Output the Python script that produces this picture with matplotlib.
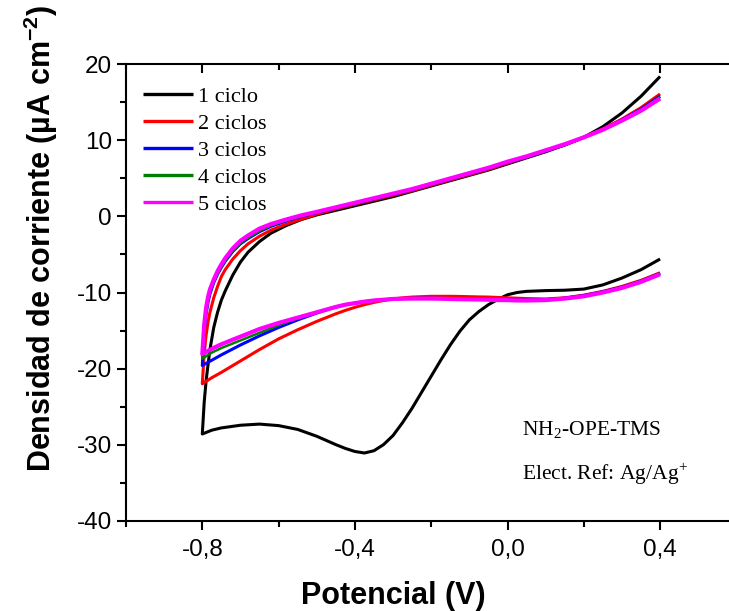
import matplotlib
matplotlib.use("Agg")
import matplotlib.pyplot as plt
from matplotlib.ticker import MultipleLocator, FuncFormatter

plt.rcParams["mathtext.fontset"] = "custom"
plt.rcParams["mathtext.rm"] = "Liberation Serif"
plt.rcParams["mathtext.bf"] = "Liberation Sans:bold"

# Potential grids (V)
pot_down = [0.40, 0.35, 0.30, 0.25, 0.20, 0.15, 0.10, 0.05, 0.025, 0.00, -0.025, -0.05,
            -0.075, -0.10, -0.125, -0.15, -0.175, -0.20, -0.225, -0.25, -0.275, -0.30,
            -0.325, -0.35, -0.375, -0.40, -0.425, -0.45, -0.50, -0.55, -0.60, -0.65,
            -0.70, -0.75, -0.775, -0.80]
pot_up = [-0.80, -0.795, -0.79, -0.785, -0.78, -0.77, -0.76, -0.75, -0.74, -0.72, -0.70,
          -0.68, -0.65, -0.62, -0.58, -0.54, -0.50, -0.45, -0.40, -0.35, -0.30, -0.25,
          -0.20, -0.15, -0.10, -0.05, 0.00, 0.05, 0.10, 0.15, 0.20, 0.25, 0.30, 0.35, 0.40]

# Current density (uA cm-2), cathodic sweep (0.4 -> -0.8)
c1_down = [-5.6, -7.0, -8.1, -9.0, -9.55, -9.7, -9.75, -9.85, -10.0, -10.3, -10.9, -11.6,
           -12.5, -13.6, -15.1, -16.9, -18.9, -21.0, -23.1, -25.2, -27.1, -28.8,
           -30.0, -30.8, -31.1, -30.9, -30.5, -30.0, -28.9, -28.0, -27.5, -27.3,
           -27.45, -27.8, -28.1, -28.6]
c2_down = [-7.4, -8.4, -9.2, -9.85, -10.35, -10.7, -10.85, -10.8, -10.75, -10.7, -10.65, -10.6,
           -10.58, -10.55, -10.52, -10.5, -10.5, -10.5, -10.55, -10.6, -10.7, -10.85,
           -11.05, -11.3, -11.6, -11.95, -12.35, -12.8, -13.8, -14.9, -16.1, -17.5,
           -19.0, -20.5, -21.2, -22.0]
c3_down = [-7.5, -8.5, -9.3, -9.9, -10.4, -10.75, -10.95, -11.0, -11.0, -10.95, -10.95, -10.9,
           -10.87, -10.85, -10.83, -10.8, -10.78, -10.76, -10.76, -10.77, -10.8, -10.85,
           -10.95, -11.05, -11.2, -11.4, -11.6, -11.9, -12.7, -13.6, -14.6, -15.7,
           -16.9, -18.2, -18.9, -19.6]
c4_down = [-7.5, -8.5, -9.35, -9.95, -10.45, -10.8, -11.0, -11.05, -11.05, -11.0, -11.0, -10.95,
           -10.92, -10.9, -10.88, -10.85, -10.82, -10.8, -10.8, -10.8, -10.82, -10.85,
           -10.95, -11.05, -11.2, -11.4, -11.6, -11.9, -12.6, -13.4, -14.3, -15.3,
           -16.3, -17.3, -17.9, -18.7]
c5_down = [-7.6, -8.6, -9.4, -10.0, -10.5, -10.8, -11.0, -11.05, -11.05, -11.0, -11.0, -10.95,
           -10.92, -10.9, -10.88, -10.85, -10.82, -10.8, -10.8, -10.8, -10.82, -10.85,
           -10.95, -11.05, -11.2, -11.4, -11.6, -11.9, -12.6, -13.3, -14.0, -14.8,
           -15.8, -16.8, -17.4, -18.1]

# Anodic sweep (-0.8 -> 0.4)
c1_up = [-28.6, -24.4, -21.6, -19.5, -17.5, -14.6, -12.6, -11.0, -9.8, -7.7, -6.0,
         -4.7, -3.3, -2.2, -1.2, -0.4, 0.2, 0.8, 1.4, 2.0, 2.6, 3.3,
         4.0, 4.7, 5.4, 6.1, 6.9, 7.7, 8.5, 9.4, 10.4, 11.8, 13.6, 15.8, 18.4]
c2_up = [-22.0, -18.0, -15.6, -13.9, -12.6, -10.7, -9.2, -7.9, -7.0, -5.6, -4.5,
         -3.6, -2.6, -1.8, -1.0, -0.35, 0.3, 1.0, 1.6, 2.2, 2.8, 3.4,
         4.1, 4.8, 5.5, 6.2, 7.0, 7.8, 8.6, 9.4, 10.4, 11.5, 12.8, 14.3, 16.1]
c3_up = [-19.6, -15.0, -12.8, -11.3, -10.2, -8.7, -7.6, -6.7, -5.9, -4.6, -3.6,
         -2.9, -2.0, -1.3, -0.6, 0.0, 0.5, 1.1, 1.7, 2.3, 2.9, 3.5,
         4.2, 4.9, 5.6, 6.3, 7.1, 7.8, 8.6, 9.4, 10.4, 11.4, 12.7, 14.1, 15.8]
c4_up = [-18.7, -14.6, -12.4, -11.0, -9.9, -8.5, -7.5, -6.6, -5.8, -4.5, -3.5,
         -2.8, -1.9, -1.2, -0.5, 0.05, 0.55, 1.15, 1.75, 2.35, 2.95, 3.55,
         4.25, 4.95, 5.65, 6.35, 7.15, 7.85, 8.65, 9.45, 10.4, 11.4, 12.65, 14.0, 15.7]
c5_up = [-18.1, -14.2, -12.0, -10.6, -9.6, -8.3, -7.2, -6.3, -5.5, -4.2, -3.2,
         -2.5, -1.6, -1.0, -0.4, 0.15, 0.6, 1.2, 1.8, 2.4, 3.0, 3.6,
         4.3, 5.0, 5.7, 6.4, 7.2, 7.9, 8.7, 9.5, 10.4, 11.4, 12.6, 13.9, 15.5]

labels = ["1 ciclo", "2 ciclos", "3 ciclos", "4 ciclos", "5 ciclos"]
colors = ["#000000", "#ff0000", "#0000ff", "#008000", "#ff00ff"]
widths = [2.2, 2.2, 2.2, 1.8, 3.0]

x_ticks = [-0.8, -0.4, 0.0, 0.4]
y_ticks = [-40, -30, -20, -10, 0, 10, 20]

SANS = ["Liberation Sans", "DejaVu Sans"]
SERIF = ["Liberation Serif", "DejaVu Serif"]

fig = plt.figure(figsize=(7.29, 6.11), dpi=100)
ax = fig.add_axes([126 / 729, 90.3 / 611, 610.4 / 729, 456.4 / 611])

downs = [c1_down, c2_down, c3_down, c4_down, c5_down]
ups = [c1_up, c2_up, c3_up, c4_up, c5_up]
for dn, up, lab, col, lw in zip(downs, ups, labels, colors, widths):
    ax.plot(pot_down + pot_up[1:], dn + up[1:], color=col, lw=lw, label=lab,
            solid_joinstyle="round", solid_capstyle="butt")

ax.set_xlim(-1.0, 0.6)
ax.set_ylim(-40, 20)
ax.set_xticks(x_ticks)
ax.set_yticks(y_ticks)
ax.xaxis.set_minor_locator(MultipleLocator(0.2))
ax.yaxis.set_minor_locator(MultipleLocator(5))
ax.xaxis.set_major_formatter(FuncFormatter(lambda v, p: f"{v:.1f}".replace(".", ",").replace("-0,0", "0,0")))
ax.yaxis.set_major_formatter(FuncFormatter(lambda v, p: f"{v:.0f}"))
ax.tick_params(which="major", direction="out", length=6.5, width=1.5)
ax.tick_params(which="minor", direction="out", length=4, width=1.5)
ax.tick_params(axis="x", which="major", pad=6.5)
ax.tick_params(axis="y", which="major", pad=3.5)
ax.tick_params(top=False, right=False)
for lab in ax.get_xticklabels() + ax.get_yticklabels():
    lab.set_fontfamily(SANS)
    lab.set_fontsize(17.5)
for s in ["left", "bottom", "top"]:
    ax.spines[s].set_linewidth(1.5)
ax.spines["right"].set_visible(False)

top = ax.twiny()
top.set_xlim(ax.get_xlim())
top.set_xticks(x_ticks)
top.xaxis.set_minor_locator(MultipleLocator(0.2))
top.tick_params(axis="x", which="major", direction="in", length=6.5, width=1.5, labeltop=False)
top.tick_params(axis="x", which="minor", direction="in", length=4, width=1.5)
for s in top.spines.values():
    s.set_visible(False)

leg = ax.legend(loc="upper left", bbox_to_anchor=(0.028, 0.951), frameon=False,
                borderpad=0, borderaxespad=0, handlelength=2.25, handletextpad=0.2,
                labelspacing=0.29, prop={"family": SERIF, "size": 16})
for h in leg.get_lines():
    h.set_linewidth(2.4)

ax.text(0.648, 0.186, "NH$_2$-OPE-TMS", transform=ax.transAxes, fontsize=15.5,
        family=SERIF, ha="left", va="baseline")
ax.text(0.648, 0.09, "Elect. Ref: Ag/Ag$^{+}$", transform=ax.transAxes, fontsize=15.5,
        family=SERIF, ha="left", va="baseline")

fig.text(393 / 729, 1 - 596 / 611, "Potencial (V)", ha="center", va="center",
         fontsize=22, fontweight="bold", family=SANS)
fig.text(41 / 729, 1 - 238 / 611, "Densidad de corriente (µA cm$^{\\mathbf{-2}}$)",
         ha="center", va="center", rotation=90, fontsize=22, fontweight="bold",
         family=SANS)

fig.savefig("out.png", dpi=100)
